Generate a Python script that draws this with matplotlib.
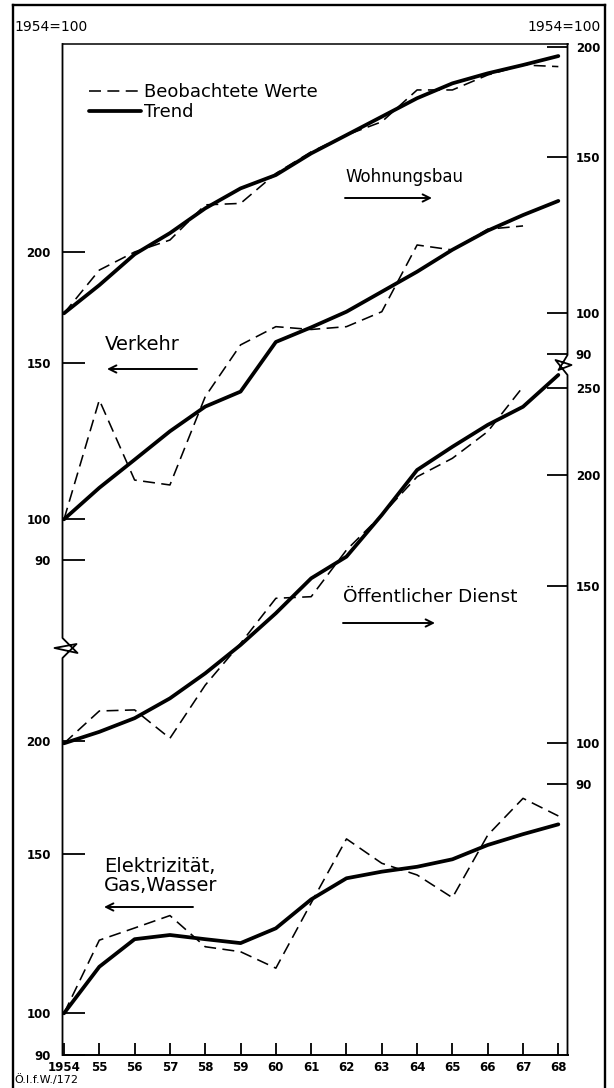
import numpy as np
import matplotlib
matplotlib.use("Agg")
import matplotlib.pyplot as plt
from matplotlib.lines import Line2D
from matplotlib.ticker import NullLocator, FixedLocator, FixedFormatter

plt.rcParams['font.family'] = ['DejaVu Sans']

# ---------------- data (index 1954 = 100) ----------------
years = list(range(1954, 1969))
year_labels = ['1954', '55', '56', '57', '58', '59', '60', '61', '62', '63',
               '64', '65', '66', '67', '68']

wohnungsbau_obs = [100, 111.9, 117.3, 121.0, 132.6, 133.1, 143.9, 152.2, 159.0,
                   164.6, 178.8, 178.8, 185.9, 190.8, 190.0]
wohnungsbau_trend = [100, 107.6, 116.6, 123.2, 131.4, 138.4, 143.3, 151.6, 159.0,
                     166.8, 175.0, 181.9, 186.7, 190.8, 195.3]

verkehr_obs = [100, 136.2, 110.7, 109.3, 137.4, 157.1, 164.7, 163.5, 164.7,
               171.2, 203.5, 200.9, 212.0, 213.8, np.nan]
verkehr_trend = [100, 108.5, 116.7, 125.6, 133.9, 139.2, 158.3, 164.4, 171.2,
                 180.3, 189.9, 201.0, 211.2, 219.9, 228.1]

oeffentlich_obs = [100, 108.7, 109.0, 101.3, 116.2, 129.4, 145.4, 146.0, 164.7,
                   180.3, 199.0, 208.7, 223.6, 251.0, np.nan]
oeffentlich_trend = [100, 103.0, 106.7, 112.3, 119.8, 128.9, 139.9, 153.1, 161.9,
                     180.3, 202.5, 215.0, 227.5, 238.4, 258.8]

elektrizitaet_obs = [100, 120.5, 124.3, 128.3, 118.5, 117.0, 112.2, 132.5, 156.0,
                     146.6, 142.3, 134.3, 157.5, 173.0, 165.4]
elektrizitaet_trend = [100, 112.6, 120.8, 122.1, 120.8, 119.6, 124.2, 133.7, 141.1,
                       143.5, 145.3, 148.1, 153.6, 157.9, 161.9]

left_upper_ticks = [90, 100, 150, 200]     # Verkehr
left_lower_ticks = [90, 100, 150, 200]     # Elektrizität, Gas, Wasser
right_upper_ticks = [90, 100, 150, 200]    # Wohnungsbau
right_lower_ticks = [90, 100, 150, 200, 250]  # Öffentlicher Dienst

# ---------------- layout ----------------
W, H = 614, 1088
fig = plt.figure(figsize=(W / 100, H / 100), dpi=100)
fig.patch.set_facecolor('white')

AX_L, AX_R, AX_T, AX_B = 62.5, 567.5, 44.0, 1055.0
rect = [AX_L / W, 1 - AX_B / H, (AX_R - AX_L) / W, (AX_B - AX_T) / H]


def fx(x):
    return x / W


def fy(y):
    return 1 - y / H


def ylim_for(y100, k):
    lo = 100 * 10 ** (-(AX_B - y100) / k)
    hi = 100 * 10 ** ((y100 - AX_T) / k)
    return lo, hi


X0, DX = 64.0, 35.31
xlim = (1954 - (X0 - AX_L) / DX, 1954 + (AX_R - X0) / DX)

ax_e = fig.add_axes(rect)
ax_v = fig.add_axes(rect, sharex=ax_e)
ax_w = fig.add_axes(rect, sharex=ax_e)
ax_o = fig.add_axes(rect, sharex=ax_e)

scales = {
    'e': (ax_e, 1013.3, 903.0, left_lower_ticks, 'left'),
    'v': (ax_v, 519.3, 889.0, left_upper_ticks, 'left'),
    'w': (ax_w, 313.3, 885.0, right_upper_ticks, 'right'),
    'o': (ax_o, 743.3, 892.0, right_lower_ticks, 'right'),
}

for key, (ax, y100, k, ticks, side) in scales.items():
    ax.set_yscale('log')
    ax.set_ylim(*ylim_for(y100, k))
    ax.set_xlim(*xlim)
    ax.patch.set_visible(False)
    for s in ax.spines.values():
        s.set_visible(False)
    ax.yaxis.set_major_locator(FixedLocator(ticks))
    ax.yaxis.set_major_formatter(FixedFormatter([str(t) for t in ticks]))
    ax.yaxis.set_minor_locator(NullLocator())
    if side == 'left':
        ax.yaxis.tick_left()
        ax.tick_params(axis='y', direction='in', length=16, width=1.3, pad=8.5,
                       labelsize=8.5)
    else:
        ax.yaxis.tick_right()
        ax.tick_params(axis='y', direction='in', length=15, width=1.3, pad=6,
                       labelsize=8.5)
    for lab in ax.get_yticklabels():
        lab.set_fontweight('bold')
    if ax is not ax_e:
        ax.tick_params(axis='x', which='both', bottom=False, labelbottom=False)

# x axis on the main axes
ax_e.set_xticks(years)
ax_e.set_xticklabels(year_labels, fontsize=8.5, fontweight='bold')
ax_e.xaxis.set_minor_locator(NullLocator())
ax_e.tick_params(axis='x', direction='in', length=9, width=1.3, pad=4)
ax_e.spines['bottom'].set_visible(True)
ax_e.spines['bottom'].set_linewidth(1.4)

# ---------------- series ----------------
DASH = (0, (7.5, 4))
LW_OBS, LW_TREND = 1.15, 2.7
series = [
    (ax_w, wohnungsbau_obs, wohnungsbau_trend),
    (ax_v, verkehr_obs, verkehr_trend),
    (ax_o, oeffentlich_obs, oeffentlich_trend),
    (ax_e, elektrizitaet_obs, elektrizitaet_trend),
]
handles = None
for ax, obs, trend in series:
    h1, = ax.plot(years, obs, color='black', lw=LW_OBS, linestyle=DASH)
    h2, = ax.plot(years, trend, color='black', lw=LW_TREND,
                  solid_joinstyle='round', solid_capstyle='round')
    if handles is None:
        handles = [h1, h2]

# ---------------- frame pieces (spines with breaks) ----------------
hpx = 1 / (AX_B - AX_T)
wpx = 1 / (AX_R - AX_L)


def broken_spine(xa, yb_px, offs):
    yb = (AX_B - yb_px) * hpx
    xs = [xa, xa]
    ys = [0, yb - 10 * hpx]
    for dx_, dy_ in offs:
        xs.append(xa + dx_ * wpx)
        ys.append(yb + dy_ * hpx)
    xs += [xa, xa]
    ys += [yb + 10 * hpx, 1]
    ax_e.add_line(Line2D(xs, ys, transform=ax_e.transAxes, color='black',
                         lw=1.3, clip_on=False))


broken_spine(0.0, 648, [(14, 4), (-8, 0), (15, -5)])
broken_spine(1.0, 365, [(-12, 5), (4, 0), (-9, -5)])
ax_e.add_line(Line2D([0, 1], [1, 1], transform=ax_e.transAxes, color='black',
                     lw=1.1, clip_on=False))

# outer frame
for xs, ys in [([13, 13], [5, H]), ([605, 605], [5, H]), ([13, 605], [5, 5])]:
    fig.add_artist(Line2D([fx(x) for x in xs], [fy(y) for y in ys],
                          transform=fig.transFigure, color='black', lw=1.7))

# ---------------- texts ----------------
fig.text(fx(14), fy(27), '1954=100', fontsize=10, ha='left', va='center')
fig.text(fx(601), fy(27), '1954=100', fontsize=10, ha='right', va='center')
fig.text(fx(14), fy(1080), 'Ö.I.f.W./172', fontsize=8, ha='left', va='center')

leg = ax_w.legend(handles, ['Beobachtete Werte', 'Trend'], loc='upper left',
                  bbox_to_anchor=(fx(89), fy(83)), bbox_transform=fig.transFigure,
                  frameon=False, borderpad=0, borderaxespad=0, handlelength=2.9,
                  handletextpad=0.12, labelspacing=0.12, fontsize=13)

labels = [
    ('Wohnungsbau', 345, 177, 12, 'right', 198, 345, 432),
    ('Verkehr', 105, 345, 14, 'left', 369, 107, 197),
    ('Öffentlicher Dienst', 343, 597, 13.3, 'right', 623, 343, 435),
]
for text, x, y, fs, direction, ay, ax0, ax1 in labels:
    fig.text(fx(x), fy(y), text, fontsize=fs, ha='left', va='center')
    if direction == 'right':
        start, end = ax0, ax1
    else:
        start, end = ax1, ax0
    ax_e.annotate('', xy=(fx(end), fy(ay)), xytext=(fx(start), fy(ay)),
                  xycoords='figure fraction', textcoords='figure fraction',
                  arrowprops=dict(arrowstyle='->', lw=1.4, color='black',
                                  shrinkA=0, shrinkB=0, mutation_scale=13))

fig.text(fx(104), fy(876), 'Elektrizität,\nGas,Wasser', fontsize=14,
         ha='left', va='center', linespacing=1.0)
ax_e.annotate('', xy=(fx(104), fy(907)), xytext=(fx(193), fy(907)),
              xycoords='figure fraction', textcoords='figure fraction',
              arrowprops=dict(arrowstyle='->', lw=1.4, color='black',
                              shrinkA=0, shrinkB=0, mutation_scale=13))

fig.savefig('out.png', dpi=100, facecolor='white')
